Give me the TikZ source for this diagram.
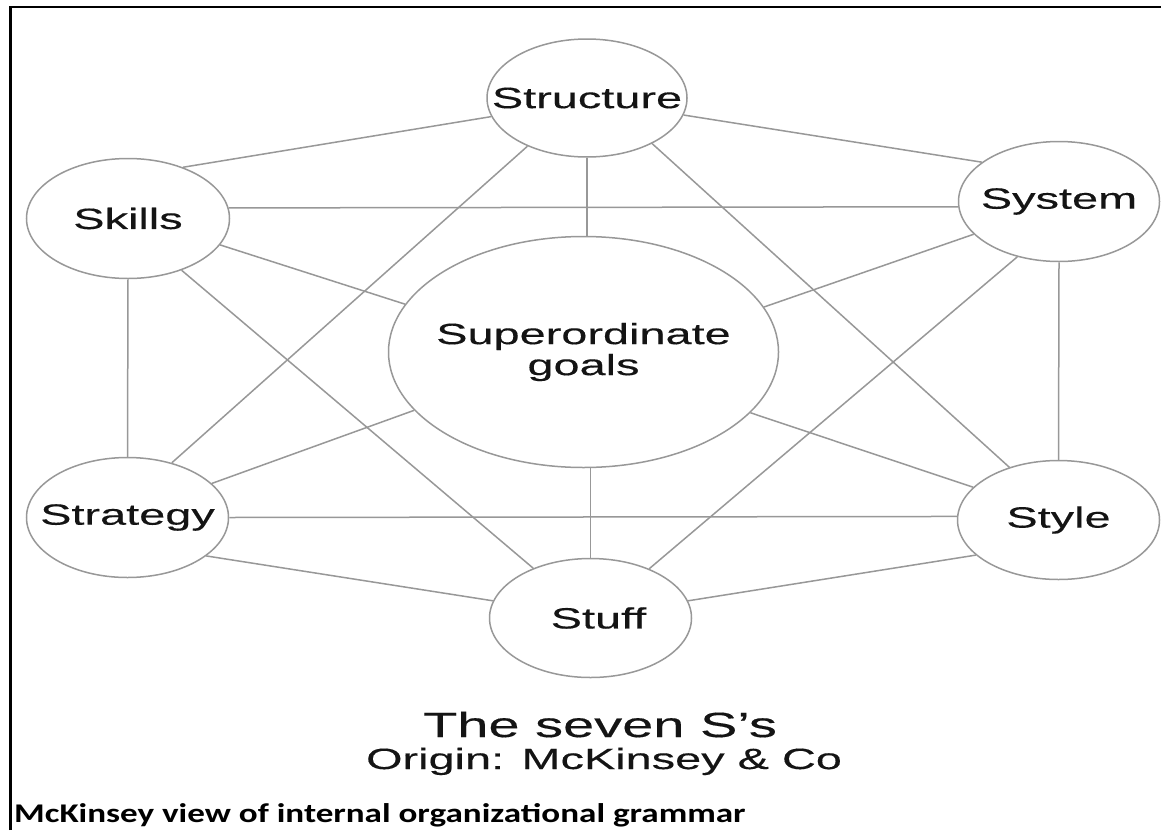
\documentclass[tikz,border=0pt]{standalone}
\usepackage{fontspec}
\usetikzlibrary{shapes.geometric}
\newfontfamily\labfont[FakeStretch=1.6,FakeBold=0.3]{Liberation Sans}
\newfontfamily\capfont[FakeStretch=1.3]{Carlito}
\definecolor{linegray}{RGB}{152,152,152}
\definecolor{ink}{RGB}{20,20,20}
\begin{document}
\begin{tikzpicture}[x=1pt,y=-1pt,
  ell/.style={ellipse, draw=linegray, line width=1.5pt, inner sep=0pt, fill=white},
  conn/.style={draw=linegray, line width=1.5pt},
  lab/.style={font=\labfont\fontsize{29.3}{31}\selectfont, text=ink, inner sep=0pt},
  frameline/.style={line width=2.6pt, black}]
\useasboundingbox (0,0) rectangle (1161,830);
\fill[white] (0,0) rectangle (1161,830);
\draw[frameline] (10.3,830) -- (10.3,6.8) -- (1161,6.8);

\node[ell, minimum width=200pt, minimum height=118pt, label={[lab]center:Structure}] (structure) at (587,98) {};
\node[ell, minimum width=203pt, minimum height=120pt, label={[lab]center:Skills}] (skills) at (128,218.5) {};
\node[ell, minimum width=201pt, minimum height=120pt, label={[lab]center:System}] (system) at (1059,201.5) {};
\node[ell, minimum width=202pt, minimum height=120pt, label={[lab]center:Strategy}] (strategy) at (127.5,517.5) {};
\node[ell, minimum width=202pt, minimum height=119pt, label={[lab]center:Style}] (style) at (1058.5,520) {};
\node[ell, minimum width=202pt, minimum height=119pt, label={[lab, xshift=8pt]center:Stuff}] (stuff) at (590.5,618) {};
\node[ell, minimum width=390pt, minimum height=231pt, label={[lab, align=center]center:{Superordinate\\goals}}] (goals) at (583.5,352) {};

% connectors
\draw[conn] (structure.191.6) -- (skills.43.6);
\draw[conn] (structure.350.4) -- (system.153.1);
\draw[conn] (structure.south) -- (structure.south |- goals.north);
\draw[conn] (structure.219.1) -- (strategy.51.5);
\draw[conn] (structure.325) -- (style.133.6);
\draw[conn] (skills.6.5) -- (system.183.1);
\draw[conn] (skills.344.4) -- (goals.165.7);
\draw[conn] (skills.south) -- (strategy.north);
\draw[conn] (skills.316.9) -- (stuff.139);
\draw[conn] (system.201.3) -- (goals.14.3);
\draw[conn] (system.233) -- (stuff.40);
\draw[conn] (system.south) -- (style.north);
\draw[conn] (strategy.22.8) -- (goals.199.9);
\draw[conn] (strategy.0) -- (style.178.3);
\draw[conn] (strategy.334.4) -- (stuff.170.2);
\draw[conn] (style.159.1) -- (goals.340.4);
\draw[conn] (style.203.1) -- (stuff.10.2);
\draw[conn] (stuff.north) -- (stuff.north |- goals.south);

% captions
\node[font=\labfont\fontsize{35}{35}\selectfont, text=ink, inner sep=0pt, anchor=base] (title) at (600,737) {The seven S’s};
\node[lab, anchor=base] (origin) at (604,769) {Origin: McKinsey \& Co};
\node[font=\capfont\bfseries\fontsize{27}{27}\selectfont, text=black, inner sep=0pt, anchor=base west] (caption) at (14,822) {McKinsey view of internal organizational grammar};
\end{tikzpicture}
\end{document}
